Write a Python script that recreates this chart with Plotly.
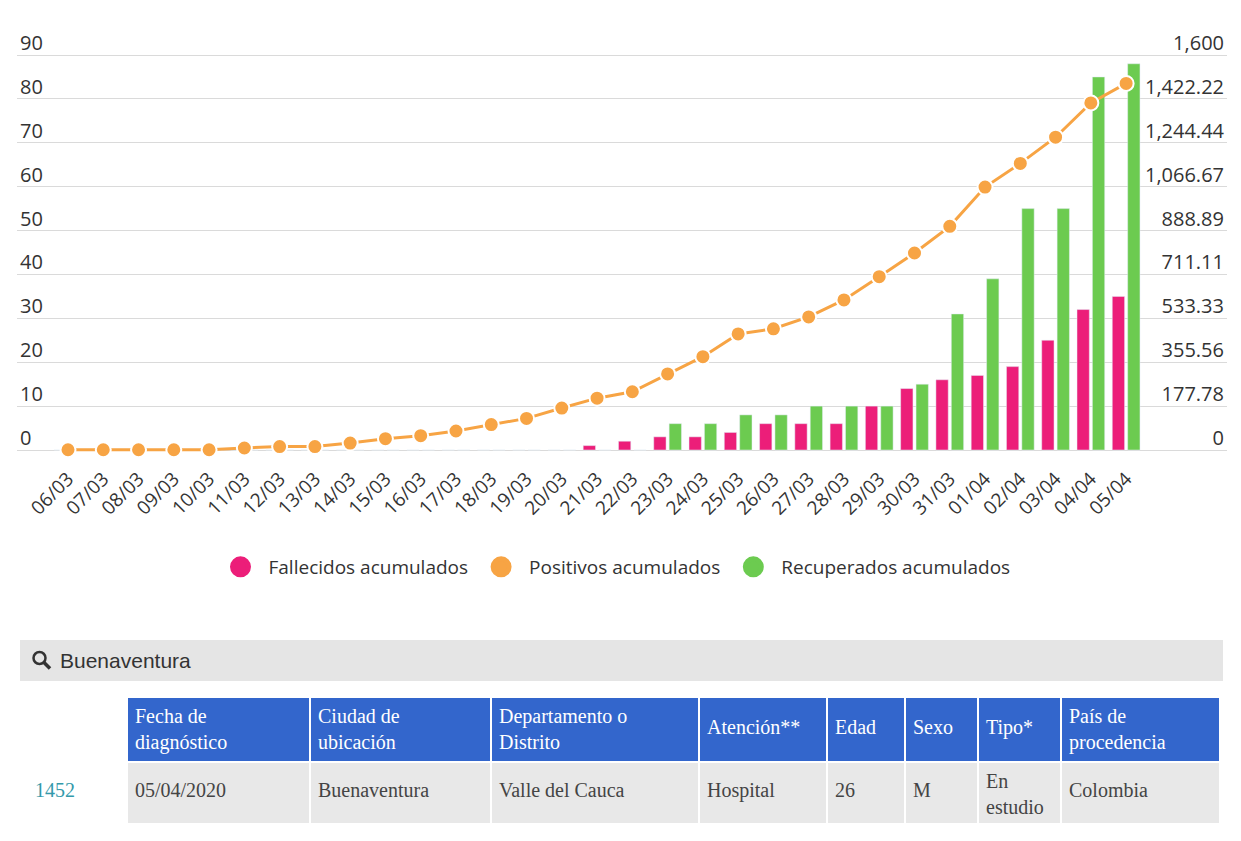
import plotly.graph_objects as go

fechas = ["06/03", "07/03", "08/03", "09/03", "10/03", "11/03", "12/03", "13/03",
          "14/03", "15/03", "16/03", "17/03", "18/03", "19/03", "20/03", "21/03",
          "22/03", "23/03", "24/03", "25/03", "26/03", "27/03", "28/03", "29/03",
          "30/03", "31/03", "01/04", "02/04", "03/04", "04/04", "05/04"]
positivos = [1, 1, 1, 1, 1, 8, 14, 14, 28, 46, 58, 77, 103, 128, 170, 210,
             236, 308, 378, 470, 491, 539, 608, 702, 798, 906, 1065, 1161, 1267, 1406, 1485]
fallecidos = [0] * 15 + [1, 2, 3, 3, 4, 6, 6, 6, 10, 14, 16, 17, 19, 25, 32, 35]
recuperados = [0] * 17 + [6, 6, 8, 8, 10, 10, 10, 15, 31, 39, 55, 55, 85, 88]

# eje izquierdo (barras) y derecho (positivos)
y_max = 90
y2_max = 1600
y2_labels = ["0", "177.78", "355.56", "533.33", "711.11", "888.89",
             "1,066.67", "1,244.44", "1,422.22", "1,600"]
y2_vals = [y2_max * k / 9 for k in range(len(y2_labels))]

# tabla de resultado de la busqueda
busqueda = "Buenaventura"
columnas = ["", "Fecha de<br>diagnóstico", "Ciudad de<br>ubicación", "Departamento o<br>Distrito",
            "Atención**", "Edad", "Sexo", "Tipo*", "País de<br>procedencia"]
fila = ["1452", "05/04/2020", "Buenaventura", "Valle del Cauca", "Hospital", "26", "M",
        "En<br>estudio", "Colombia"]
anchos = [100, 183, 181, 208, 128, 78, 73, 83, 159]

ROSA = "#EC1E79"
NARANJA = "#F7A444"
VERDE = "#6CCB50"

# la pagina deja 8px de margen alrededor del grafico
FW, FH = 1225, 825


def px(x):
    return (x - 8) / FW


def py(y):
    return (FH - (y - 8)) / FH


# zona de trazado: linea de 90 en y=55, linea de 0 en y=450 (pagina)
top_px, base_px = 55, 450
u = (base_px - top_px) / y_max
lo = -13 / u
hi = y_max + 40 / u

fig = go.Figure()

fig.add_trace(go.Bar(x=fechas, y=fallecidos, name="Fallecidos acumulados",
                     marker_color=ROSA, showlegend=False, yaxis="y"))
fig.add_trace(go.Bar(x=fechas, y=recuperados, name="Recuperados acumulados",
                     marker_color=VERDE, showlegend=False, yaxis="y"))
fig.add_trace(go.Scatter(x=fechas, y=positivos, name="Positivos acumulados", yaxis="y2",
                         mode="lines+markers", showlegend=False,
                         line=dict(color=NARANJA, width=3),
                         marker=dict(color=NARANJA, size=15, line=dict(color="white", width=2))))

# entradas de leyenda con circulos
for nombre, color in [("Fallecidos acumulados", ROSA), ("Positivos acumulados", NARANJA),
                      ("Recuperados acumulados", VERDE)]:
    fig.add_trace(go.Scatter(x=[None], y=[None], mode="markers", name=nombre,
                             marker=dict(color=color, size=16, line=dict(color=color, width=5))))


def multilinea(v):
    return v if "<br>" in v else ""


def unalinea(v):
    return "" if "<br>" in v else v


# tabla con fondos y textos de dos lineas
fig.add_trace(go.Table(
    domain=dict(x=[px(27), px(1220)], y=[py(823), py(697)]),
    columnwidth=anchos,
    header=dict(values=[multilinea(c) for c in columnas], height=63, align="left",
                fill_color=["white"] + ["#3366CC"] * (len(columnas) - 1),
                line=dict(color="white", width=2),
                font=dict(family="Liberation Serif", size=20, color="white")),
    cells=dict(values=[[multilinea(v)] for v in fila], height=63, align="left",
               fill_color=["white"] + ["#E8E8E8"] * (len(fila) - 1),
               line=dict(color="white", width=2),
               font=dict(family="Liberation Serif", size=20, color="#444444")),
))

# textos de una linea, centrados verticalmente en su celda
fig.add_trace(go.Table(
    domain=dict(x=[px(27), px(1220)], y=[0, py(711)]),
    columnwidth=anchos,
    header=dict(values=[unalinea(c) for c in columnas], height=63, align="left",
                fill_color="rgba(0,0,0,0)", line=dict(color="rgba(0,0,0,0)", width=0),
                font=dict(family="Liberation Serif", size=20, color="white")),
    cells=dict(values=[[unalinea(v)] for v in fila], height=50, align="left",
               fill_color="rgba(0,0,0,0)", line=dict(color="rgba(0,0,0,0)", width=0),
               font=dict(family="Liberation Serif", size=20,
                         color=["#3399AA"] + ["#444444"] * (len(fila) - 1))),
))

tick_font = dict(family="Open Sans", size=20, color="#333333")

fig.update_layout(
    width=FW, height=FH,
    margin=dict(l=0, r=0, t=0, b=0),
    paper_bgcolor="white", plot_bgcolor="white",
    barmode="group", bargap=0.127, bargroupgap=0.2,
    xaxis=dict(domain=[px(17), px(1227)], type="category", range=[-1.446, 32.86],
               tickangle=-45, tickfont=dict(family="Open Sans", size=19, color="#333333"),
               showgrid=False, showline=False, ticks="", automargin=False),
    yaxis=dict(domain=[py(base_px + 13), py(top_px - 40)], range=[lo, hi],
               tickvals=list(range(0, y_max + 1, 10)),
               gridcolor="#DADADA", zeroline=False, showline=False,
               ticklabelposition="inside", ticklabelshift=-12, tickfont=tick_font,
               automargin=False),
    yaxis2=dict(overlaying="y", side="right", range=[lo * y2_max / y_max, hi * y2_max / y_max],
                tickvals=y2_vals, ticktext=y2_labels, showgrid=False, zeroline=False,
                ticklabelposition="inside", ticklabelshift=-12, tickfont=tick_font,
                automargin=False),
    legend=dict(orientation="h", x=px(614), xanchor="center", y=py(567), yanchor="middle",
                itemwidth=46, font=dict(family="Open Sans", size=19, color="#333333"),
                itemclick=False),
    shapes=[
        dict(type="rect", xref="paper", yref="paper", x0=px(20), x1=px(1223),
             y0=py(681), y1=py(640), fillcolor="#E5E5E5", line_width=0, layer="below"),
        dict(type="circle", xref="paper", yref="paper", x0=px(33.5), x1=px(45.5),
             y0=py(664), y1=py(652), line=dict(color="#333333", width=2.5)),
        dict(type="line", xref="paper", yref="paper", x0=px(43.5), x1=px(50),
             y0=py(662), y1=py(668.5), line=dict(color="#333333", width=3.5)),
    ],
    annotations=[
        dict(text=busqueda, xref="paper", yref="paper", x=px(58), y=py(660),
             xanchor="left", yanchor="middle", showarrow=False,
             font=dict(family="Liberation Sans", size=21, color="#333333")),
    ],
)

fig.write_html("out.html")
